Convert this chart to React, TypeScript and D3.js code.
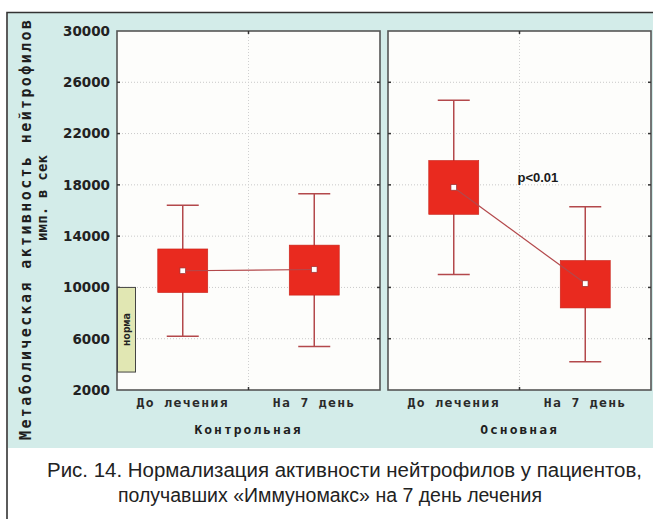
import React, { useRef, useEffect } from "react";
import * as d3 from "d3";

// data
const groups = ["Контрольная", "Основная"];
const periods = ["До лечения", "На 7 день"];
const meanValues = [[11300, 11400], [17800, 10300]];
const boxLow = [[9600, 9400], [15700, 8400]];
const boxHigh = [[13000, 13300], [19900, 12100]];
const whiskerLow = [[6200, 5400], [11000, 4200]];
const whiskerHigh = [[16400, 17300], [24600, 16300]];
const yTicks = [2000, 6000, 10000, 14000, 18000, 22000, 26000, 30000];
const normRange = [3400, 10000];
const yTitle = ["Метаболическая  активность  нейтрофилов", "имп.  в  сек"];
const pLabel = "p<0.01";
const captionLines = [
  "Рис. 14. Нормализация активности нейтрофилов у пациентов,",
  "получавших «Иммуномакс» на 7 день лечения",
];

const width = 653;
const height = 519;

const App = () => {
  const container = useRef(null);

  useEffect(() => {
    const svg = d3.select(container.current);
    svg.selectAll("*").remove();

    const mono = "'DejaVu Sans Mono', 'Liberation Mono', monospace";

    // background + frame
    svg.append("rect").attr("width", width).attr("height", height).attr("fill", "#ffffff");
    svg.append("rect").attr("x", 8).attr("y", 13).attr("width", width - 8).attr("height", 435).attr("fill", "#d3ece9");
    svg.append("path").attr("d", `M7,${height} V12.5 H${width}`).attr("fill", "none").attr("stroke", "#333").attr("stroke-width", 1.6);

    // scales
    const yScale = d3.scaleLinear().domain([2000, 30000]).range([390, 31]);
    const xGroup = d3.scaleBand().domain(groups).range([117, 651]).paddingInner(8 / 271).paddingOuter(0);
    const bw = xGroup.bandwidth();
    const xPeriod = d3.scalePoint().domain(periods).range([0, bw]).padding(0.5);

    const boxHalf = 25;
    const capHalf = 16;

    groups.forEach((grp, gi) => {
      const g = svg.append("g").attr("transform", `translate(${xGroup(grp)},0)`);

      // panel
      g.append("rect")
        .attr("x", 0).attr("y", yScale(30000))
        .attr("width", bw).attr("height", yScale(2000) - yScale(30000))
        .attr("fill", "#fdfdfb").attr("stroke", "#555").attr("stroke-width", 1.6);

      // dotted grid
      g.selectAll(".hgrid")
        .data(yTicks.slice(1, -1))
        .enter().append("line")
        .attr("x1", 2).attr("x2", bw - 2)
        .attr("y1", d => yScale(d)).attr("y2", d => yScale(d))
        .attr("stroke", "#c9c9c9").attr("stroke-dasharray", "1,2");
      g.append("line")
        .attr("x1", bw / 2).attr("x2", bw / 2)
        .attr("y1", yScale(30000)).attr("y2", yScale(2000))
        .attr("stroke", "#d0d0d0").attr("stroke-dasharray", "1,2");

      // edge ticks
      g.selectAll(".ltick").data(yTicks.slice(1, -1)).enter().append("line")
        .attr("x1", 0).attr("x2", 3).attr("y1", d => yScale(d)).attr("y2", d => yScale(d))
        .attr("stroke", "#333").attr("stroke-width", 1.5);
      g.selectAll(".rtick").data(yTicks.slice(1, -1)).enter().append("line")
        .attr("x1", bw - 3).attr("x2", bw).attr("y1", d => yScale(d)).attr("y2", d => yScale(d))
        .attr("stroke", "#333").attr("stroke-width", 1.5);
      g.append("line").attr("x1", bw / 2).attr("x2", bw / 2).attr("y1", yScale(30000)).attr("y2", yScale(30000) + 3)
        .attr("stroke", "#333").attr("stroke-width", 1.5);
      g.append("line").attr("x1", bw / 2).attr("x2", bw / 2).attr("y1", yScale(2000) - 3).attr("y2", yScale(2000))
        .attr("stroke", "#333").attr("stroke-width", 1.5);

      // norm band in first panel
      if (gi === 0) {
        g.append("rect")
          .attr("x", 0.5).attr("y", yScale(normRange[1]))
          .attr("width", 18).attr("height", yScale(normRange[0]) - yScale(normRange[1]))
          .attr("fill", "#e1e7b3").attr("stroke", "#444").attr("stroke-width", 1);
        const cy = (yScale(normRange[0]) + yScale(normRange[1])) / 2;
        g.append("text")
          .attr("transform", `translate(13,${cy}) rotate(-90)`)
          .attr("text-anchor", "middle")
          .style("font-family", mono).style("font-weight", "bold").style("font-size", "11px")
          .style("fill", "#222")
          .text("норма");
      }

      // whiskers and boxes
      periods.forEach((p, pi) => {
        const cx = xPeriod(p);
        g.append("line")
          .attr("x1", cx).attr("x2", cx)
          .attr("y1", yScale(whiskerLow[gi][pi])).attr("y2", yScale(whiskerHigh[gi][pi]))
          .attr("stroke", "#b3484b").attr("stroke-width", 1.5);
        [whiskerLow[gi][pi], whiskerHigh[gi][pi]].forEach(v => {
          g.append("line")
            .attr("x1", cx - capHalf).attr("x2", cx + capHalf)
            .attr("y1", yScale(v)).attr("y2", yScale(v))
            .attr("stroke", "#b3484b").attr("stroke-width", 1.5);
        });
        g.append("rect")
          .attr("x", cx - boxHalf).attr("width", boxHalf * 2)
          .attr("y", yScale(boxHigh[gi][pi]))
          .attr("height", yScale(boxLow[gi][pi]) - yScale(boxHigh[gi][pi]))
          .attr("fill", "#e92a1f").attr("stroke", "#c82219").attr("stroke-width", 0.6);
      });

      // line joining the means
      g.append("path")
        .datum(periods.map((p, pi) => [xPeriod(p), yScale(meanValues[gi][pi])]))
        .attr("d", d3.line())
        .attr("fill", "none").attr("stroke", "#b3484b").attr("stroke-width", 1.2);

      // mean markers
      periods.forEach((p, pi) => {
        g.append("rect")
          .attr("x", xPeriod(p) - 2.8).attr("y", yScale(meanValues[gi][pi]) - 2.8)
          .attr("width", 5.6).attr("height", 5.6)
          .attr("fill", "#ffffff").attr("stroke", "#9a3030").attr("stroke-width", 0.7);
      });

      // category labels
      g.selectAll(".cat").data(periods).enter().append("text")
        .attr("x", d => xPeriod(d)).attr("y", 407)
        .attr("text-anchor", "middle")
        .style("font-family", mono).style("font-weight", "bold").style("font-size", "13px")
        .style("letter-spacing", "1.4px")
        .style("fill", "#2a2a2a")
        .text(d => d);

      g.append("text")
        .attr("x", bw / 2).attr("y", 434)
        .attr("text-anchor", "middle")
        .style("font-family", mono).style("font-weight", "bold").style("font-size", "13px")
        .style("letter-spacing", "2px")
        .style("fill", "#1e1e1e")
        .text(grp);

      if (gi === 1) {
        g.append("text")
          .attr("x", bw / 2 - 2).attr("y", 182)
          .style("font-family", "'Liberation Sans', Arial, sans-serif").style("font-weight", "bold")
          .style("font-size", "13px").style("fill", "#1a1a1a")
          .text(pLabel);
      }
    });

    // y axis labels
    const yAxis = svg.append("g")
      .attr("transform", "translate(110,0)")
      .call(d3.axisLeft(yScale).tickValues(yTicks).tickSize(0).tickPadding(0).tickFormat(d3.format("d")));
    yAxis.select(".domain").remove();
    yAxis.selectAll("text")
      .style("font-family", "'DejaVu Sans', sans-serif").style("font-weight", "bold")
      .style("font-size", "13.5px").style("fill", "#222");

    // y title
    svg.append("text")
      .attr("transform", "translate(31,230) rotate(-90)")
      .attr("text-anchor", "middle")
      .attr("textLength", 420)
      .style("font-family", mono).style("font-weight", "bold").style("font-size", "15px")
      .style("fill", "#1e1e1e")
      .text(yTitle[0]);
    svg.append("text")
      .attr("transform", "translate(47,198) rotate(-90)")
      .attr("text-anchor", "middle")
      .attr("textLength", 86)
      .style("font-family", mono).style("font-weight", "bold").style("font-size", "14px")
      .style("fill", "#1e1e1e")
      .text(yTitle[1]);

    // caption
    svg.append("text")
      .attr("x", 47).attr("y", 477)
      .attr("textLength", 595).attr("lengthAdjust", "spacingAndGlyphs")
      .style("font-family", "'Liberation Sans', Arial, sans-serif").style("font-size", "20px")
      .style("fill", "#222")
      .text(captionLines[0]);
    svg.append("text")
      .attr("x", 118).attr("y", 502)
      .attr("textLength", 424).attr("lengthAdjust", "spacingAndGlyphs")
      .style("font-family", "'Liberation Sans', Arial, sans-serif").style("font-size", "20px")
      .style("fill", "#222")
      .text(captionLines[1]);
  }, []);

  return (
    <svg
      ref={container}
      width={width}
      height={height}
      style={{ position: "absolute", left: 0, top: 0 }}
    />
  );
};

export default App;
